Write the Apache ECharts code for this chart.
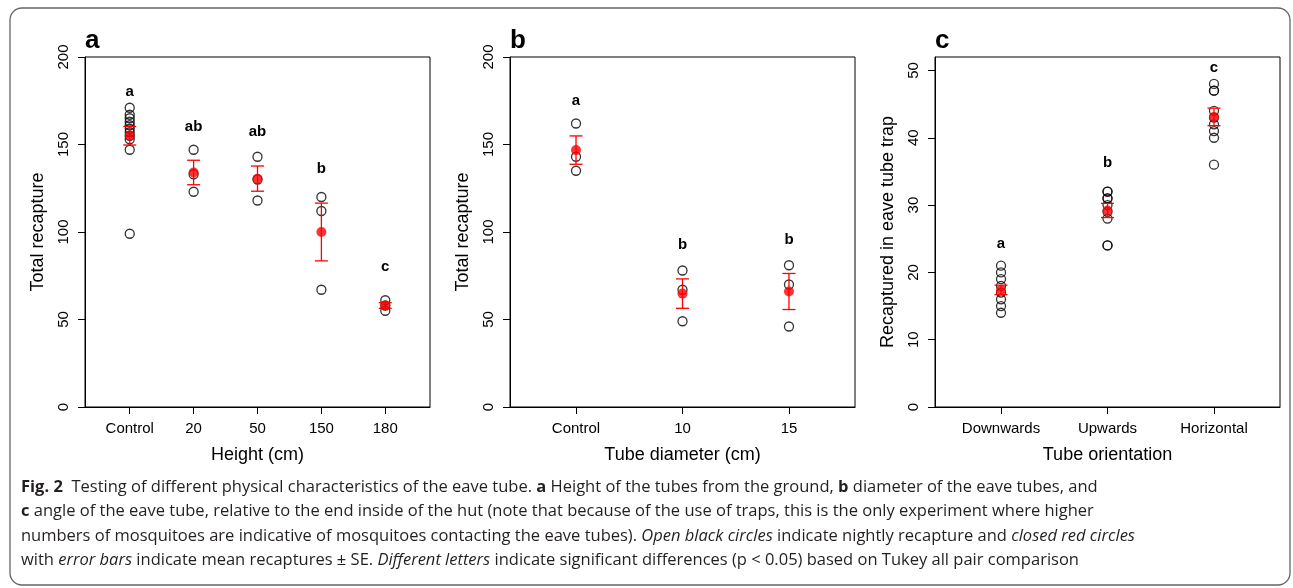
<!DOCTYPE html>
<html><head><meta charset="utf-8">
<script src="https://cdn.jsdelivr.net/npm/echarts@6/dist/echarts.min.js"></script>
<style>html,body{margin:0;padding:0;background:#fff}#c{width:1293px;height:588px}</style>
</head><body><div id="c"></div>
<script>
// ---- Panel a: height ----
const heightCats = ['Control', '20', '50', '150', '180'];
const heightRaw = [
  [171, 167, 165, 163, 161, 159, 157, 155, 153, 147, 99],
  [147, 133, 123],
  [143, 130, 118],
  [120, 112, 67],
  [61, 58, 55]
];
const heightMean = [155, 134, 130.5, 100, 58];
const heightSE = [5.3, 7, 7.2, 16.5, 1.6];
const heightLetters = ['a', 'ab', 'ab', 'b', 'c'];
const heightLetterY = [180, 160, 157, 136, 80];

// ---- Panel b: tube diameter ----
const diamCats = ['Control', '10', '15'];
const diamRaw = [
  [162, 143, 135],
  [78, 67, 49],
  [81, 70, 46]
];
const diamMean = [146.8, 64.8, 66];
const diamSE = [8.1, 8.4, 10.3];
const diamLetters = ['a', 'b', 'b'];
const diamLetterY = [175, 92.6, 95.4];

// ---- Panel c: tube orientation ----
const orientCats = ['Downwards', 'Upwards', 'Horizontal'];
const orientRaw = [
  [21, 20, 19, 18, 17, 16, 15, 14],
  [32, 32, 31, 31, 30, 29, 28, 24, 24],
  [48, 47, 47, 44, 43, 42, 41, 40, 36]
];
const orientMean = [17.4, 29.2, 43.1];
const orientSE = [0.7, 1.05, 1.3];
const orientLetters = ['a', 'b', 'c'];
const orientLetterY = [24.2, 36.2, 50.4];

const yTicksAB = [0, 50, 100, 150, 200];
const yTicksC = [0, 10, 20, 30, 40, 50];

const FONT = '"Liberation Sans", Arial, sans-serif';

const panels = [
  {tag: 'a', left: 85, cats: heightCats, raw: heightRaw, mean: heightMean, se: heightSE,
   letters: heightLetters, letterY: heightLetterY, xmin: 0.3, xmax: 5.7,
   ymax: 200, yTicks: yTicksAB, xName: 'Height (cm)', yName: 'Total recapture'},
  {tag: 'b', left: 510, cats: diamCats, raw: diamRaw, mean: diamMean, se: diamSE,
   letters: diamLetters, letterY: diamLetterY, xmin: 0.38, xmax: 3.62,
   ymax: 200, yTicks: yTicksAB, xName: 'Tube diameter (cm)', yName: 'Total recapture'},
  {tag: 'c', left: 935, cats: orientCats, raw: orientRaw, mean: orientMean, se: orientSE,
   letters: orientLetters, letterY: orientLetterY, xmin: 0.38, xmax: 3.62,
   ymax: 52, yTicks: yTicksC, xName: 'Tube orientation', yName: 'Recaptured in eave tube trap'}
];

const grid = [], xAxis = [], yAxis = [], series = [], graphic = [];

panels.forEach((p, k) => {
  grid.push({left: p.left, top: 57, width: 345, height: 350, show: true,
    borderColor: '#000', borderWidth: 1, backgroundColor: 'transparent'});
  const xt = p.cats.map((c, i) => i + 1);
  xAxis.push({
    gridIndex: k, type: 'value', min: p.xmin, max: p.xmax,
    axisLine: {show: true, lineStyle: {color: '#000', width: 1}},
    axisTick: {show: true, customValues: xt, length: 7, lineStyle: {color: '#000', width: 1}},
    axisLabel: {customValues: xt, formatter: v => p.cats[Math.round(v) - 1] || '',
      margin: 14, fontSize: 15, color: '#000', fontFamily: FONT},
    splitLine: {show: false},
    name: p.xName, nameLocation: 'middle', nameGap: 39,
    nameTextStyle: {fontSize: 18, color: '#000', fontFamily: FONT}
  });
  yAxis.push({
    gridIndex: k, type: 'value', min: 0, max: p.ymax,
    axisLine: {show: true, lineStyle: {color: '#000', width: 1}},
    axisTick: {show: true, customValues: p.yTicks, length: 7, lineStyle: {color: '#000', width: 1}},
    axisLabel: {customValues: p.yTicks, rotate: 90, margin: 14, fontSize: 15, color: '#000', fontFamily: FONT},
    splitLine: {show: false},
    name: p.yName, nameLocation: 'middle', nameGap: 38, nameRotate: 90,
    nameTextStyle: {fontSize: 18, color: '#000', fontFamily: FONT}
  });
  const rawPts = [];
  p.raw.forEach((arr, i) => arr.forEach(v => rawPts.push([i + 1, v])));
  series.push({
    type: 'scatter', xAxisIndex: k, yAxisIndex: k, data: rawPts,
    symbol: 'circle', symbolSize: 9,
    itemStyle: {color: 'rgba(255,255,255,0)', borderColor: '#000', borderWidth: 1.3},
    z: 2, silent: true
  });
  series.push({
    type: 'custom', xAxisIndex: k, yAxisIndex: k,
    data: p.mean.map((m, i) => [i + 1, m - p.se[i], m + p.se[i]]),
    encode: {x: 0, y: [1, 2]},
    renderItem: (params, api) => {
      const x = api.value(0);
      const lo = api.coord([x, api.value(1)]);
      const hi = api.coord([x, api.value(2)]);
      const w = 6.5;
      const st = {stroke: '#ff0000', lineWidth: 1.3};
      return {type: 'group', children: [
        {type: 'line', shape: {x1: lo[0], y1: lo[1], x2: hi[0], y2: hi[1]}, style: st},
        {type: 'line', shape: {x1: lo[0] - w, y1: lo[1], x2: lo[0] + w, y2: lo[1]}, style: st},
        {type: 'line', shape: {x1: hi[0] - w, y1: hi[1], x2: hi[0] + w, y2: hi[1]}, style: st}
      ]};
    },
    z: 3, silent: true
  });
  series.push({
    type: 'scatter', xAxisIndex: k, yAxisIndex: k,
    data: p.mean.map((m, i) => [i + 1, m]),
    symbol: 'circle', symbolSize: 10,
    itemStyle: {color: '#ff0000', borderWidth: 0},
    z: 4, silent: true
  });
  series.push({
    type: 'custom', xAxisIndex: k, yAxisIndex: k,
    data: p.letterY.map((v, i) => [i + 1, v]),
    renderItem: (params, api) => {
      const pt = api.coord([api.value(0), api.value(1)]);
      return {type: 'text', x: pt[0], y: pt[1], style: {
        text: p.letters[params.dataIndex], fill: '#000',
        font: 'bold 15px ' + FONT, align: 'center', verticalAlign: 'middle'}};
    },
    z: 5, silent: true
  });
  graphic.push({type: 'text', left: p.left, top: 28, style: {
    text: p.tag, fill: '#000', font: 'bold 26px ' + FONT}});
});

// outer rounded frame
graphic.push({type: 'rect', shape: {x: 10, y: 8, width: 1280, height: 577, r: 12},
  style: {fill: 'none', stroke: '#666', lineWidth: 1.3}, z: -1, silent: true});

// caption
const captionLines = [
  '{b|Fig. 2}  Testing of different physical characteristics of the eave tube. {b|a} Height of the tubes from the ground, {b|b} diameter of the eave tubes, and',
  '{b|c} angle of the eave tube, relative to the end inside of the hut (note that because of the use of traps, this is the only experiment where higher',
  'numbers of mosquitoes are indicative of mosquitoes contacting the eave tubes). {i|Open black circles} indicate nightly recapture and {i|closed red circles}',
  'with {i|error bars} indicate mean recaptures \u00b1 SE. {i|Different letters} indicate significant differences (p < 0.05) based on Tukey all pair comparison'
];
const capY = [487, 511.5, 536, 560.5];
const CAPFONT = '"Open Sans", Lato, sans-serif';
const CAPSIZE = 16.5;
captionLines.forEach((t, i) => {
  graphic.push({type: 'text', x: 21, y: capY[i], style: {
    text: t, fill: '#231f20', fontSize: CAPSIZE, fontFamily: CAPFONT, verticalAlign: 'middle',
    rich: {
      b: {fontWeight: 'bold', fontSize: CAPSIZE, fontFamily: CAPFONT, fill: '#231f20'},
      i: {fontStyle: 'italic', fontSize: CAPSIZE, fontFamily: CAPFONT, fill: '#231f20'}
    }}});
});

const chart = echarts.init(document.getElementById('c'), null, {renderer: 'canvas'});
chart.setOption({animation: false, backgroundColor: '#fff', grid, xAxis, yAxis, series, graphic});
</script>
</body></html>
